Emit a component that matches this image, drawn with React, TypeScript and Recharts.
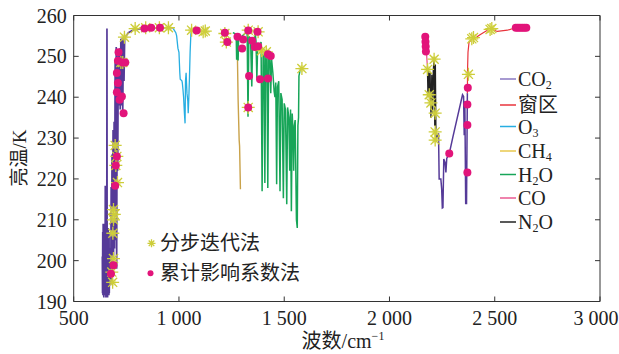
import {
  ComposedChart,
  Line,
  Scatter,
  XAxis,
  YAxis,
  ReferenceArea,
  Legend,
} from "recharts"

type Pt = [number, number]

const xTicks = [500, 1000, 1500, 2000, 2500, 3000]
const xTickLabels = ["500", "1 000", "1 500", "2 000", "2 500", "3 000"]
const yTicks = [190, 200, 210, 220, 230, 240, 250, 260]

// 15 μm CO2 band (wavenumber, brightness temperature)
const co2Band1: Pt[] = [
  [636, 201], [637, 192], [638, 207], [639, 191.5], [640, 209], [641, 192],
  [642, 206], [643, 191], [644, 208.5], [645, 192.5], [646, 205], [647, 191.5],
  [648, 209], [649, 192], [650, 218.3], [651, 191.5], [652, 207], [653, 191],
  [654, 205], [655, 192], [656, 208], [657, 191.5], [658, 256.8], [659, 191.5],
  [660, 208], [661, 191], [662, 206.5], [663, 192], [664, 208], [665, 192.5],
  [666, 204], [667, 191.5], [668, 207], [669, 192], [670, 203], [671, 194],
  [674, 196], [676, 194], [678, 218], [680, 195],
  [682, 226], [684, 197], [687, 232], [689, 199], [692, 234], [694, 203],
  [697, 249], [699, 205], [702, 252.3], [704, 198], [707, 250], [709, 222],
  [712, 251], [715, 238], [719, 252], [721, 237], [724, 254.3], [727, 238],
  [730, 254.5], [733, 236.4], [736, 254.8], [739, 244], [742, 254], [746, 254.8],
  [760, 255.8], [784, 256.5], [820, 256.8], [900, 257], [975, 257],
]

// 4.3 μm CO2 band
const co2Band2: Pt[] = [
  [2224, 230], [2233, 231.2], [2236, 220], [2244, 220], [2248, 217.5], [2251, 212.9],
  [2254, 213], [2258, 224.9], [2264, 224], [2268, 221.6], [2272, 225], [2284, 226.2],
  [2300, 230], [2320, 234.5], [2347, 240.6], [2352, 240.2], [2355, 230.7], [2358, 239],
  [2362, 214], [2366, 214], [2370, 241],
]

const windowBand: Pt[] = [
  [2370, 241], [2371, 247], [2373, 251], [2378, 253.5], [2389, 253.9], [2399, 254.2],
  [2430, 255.3], [2465, 256.4], [2478, 256.8], [2512, 256.1], [2560, 256.4],
  [2598, 257], [2655, 257],
]

const o3Band: Pt[] = [
  [973, 256.8], [985, 255.8], [989, 255], [995, 252], [1000, 251], [1004, 246],
  [1006, 244.4], [1014, 244], [1016, 243.5], [1019, 241.9], [1022, 240], [1026, 236],
  [1029, 233.6], [1031, 244], [1034, 246], [1038, 241], [1042, 239], [1044, 236.1],
  [1047, 240], [1050, 245], [1053, 251], [1057, 256], [1062, 256.4],
]

const ch4Band: Pt[] = [
  [1276, 254], [1278, 249], [1281, 239.4], [1286, 229.5], [1288, 228], [1292, 217.5],
]

const h2oBand: Pt[] = [
  [1256, 255.8], [1268, 255.5], [1272, 254.8], [1274, 249.2], [1277, 254.5], [1281, 249],
  [1283, 254], [1300, 255], [1318, 255.8], [1324, 255.5], [1328, 235.2], [1332, 254.8],
  [1340, 254.5], [1346, 242.6], [1350, 254], [1358, 253.5], [1362, 255.8], [1366, 253.5],
  [1370, 244.5], [1374, 252.8], [1382, 252.2], [1390, 253.5], [1395, 217], [1400, 252],
  [1404, 251.5], [1408, 219], [1412, 250.5], [1418, 250], [1422, 217.8], [1426, 249.5],
  [1432, 249], [1436, 241], [1440, 249.3], [1446, 246], [1452, 241.5], [1456, 240],
  [1460, 243.6], [1464, 218.7], [1468, 242.5], [1474, 243.9], [1480, 217], [1484, 241],
  [1490, 239.4], [1496, 215.3], [1500, 238.5], [1506, 237], [1512, 213.8], [1516, 237.5],
  [1522, 235], [1526, 222], [1530, 237], [1534, 212.1], [1538, 236], [1543, 230],
  [1545, 222], [1548, 233], [1552, 234.4], [1558, 210], [1562, 208], [1565, 233],
  [1568, 235], [1570, 245.2], [1575, 246.5], [1580, 247.2],
]

const coBand: Pt[] = [
  [2168, 255], [2172, 253], [2176, 250.6], [2180, 247.6],
]

const n2oBand: Pt[] = [
  [2180, 247.6], [2183, 240], [2186, 246.5], [2189, 241], [2193, 246], [2197, 235],
  [2201, 245.5], [2205, 236], [2208, 246.4], [2212, 249.8], [2215, 233], [2218, 248],
  [2221, 230], [2224, 229.9],
]

// 分步迭代法
const stepwisePts: Pt[] = [
  [681, 197.2], [685, 194.7], [689, 200.5], [686, 206.7], [689, 210], [693, 211.3],
  [689, 212.5], [708, 219.1], [700, 223.3], [705, 225.5], [697, 228.2], [724, 248.5],
  [733, 248.5], [741, 254.7], [792, 256.8], [842, 257], [907, 257], [950, 257],
  [1060, 256.4], [1115, 256], [1125, 256.2], [1218, 255.6], [1225, 253.5], [1329, 256.4],
  [1376, 256], [1392, 251.4], [1415, 251.1], [1329, 237.5], [1584, 247], [2181, 246.8],
  [2189, 240.6], [2197, 238.6], [2212, 249.3], [2217, 236.1], [2217, 231.5], [2217, 229.5],
  [2375, 245.6], [2391, 254.3], [2399, 254.6], [2478, 256.6], [2486, 256.8],
]

// 累计影响系数法
const cumulativePts: Pt[] = [
  [677, 196.8], [689, 198.9], [697, 218.3], [700, 223.3], [705, 225.5], [705, 241.2],
  [710, 243.5], [705, 245.9], [713, 251], [710, 248.9], [732, 248.5], [745, 248.5],
  [718, 239.4], [729, 240.2], [737, 236.1], [836, 256.8], [868, 257], [910, 257],
  [1084, 256.3], [1218, 255.8], [1230, 253.5], [1278, 254.8], [1305, 254.1], [1300, 251.9],
  [1329, 256.3], [1348, 253.8], [1373, 256], [1360, 252.3], [1376, 252.5], [1423, 250.5],
  [1436, 250.1], [1333, 245.2], [1385, 244.4], [1423, 244.6], [1329, 237.5], [2170, 254.8],
  [2171, 253.6], [2172, 252.4], [2173, 251.2], [2284, 226.2], [2372, 242.3], [2370, 238.2],
  [2370, 233.2], [2370, 221.6], [2600, 257], [2610, 257], [2620, 257], [2630, 257],
  [2640, 257], [2650, 257],
]

const COLORS = {
  co2: "#553a98",
  window: "#e8343c",
  o3: "#27aee2",
  ch4: "#c9a24a",
  h2o: "#17a558",
  co: "#ea5a92",
  n2o: "#222222",
  star: "#cdcd3a",
  dot: "#e2147a",
}

const legendItems = [
  { parts: ["CO", "2", ""], color: "#8a78c2", y: 79 },
  { parts: ["窗区", "", ""], color: COLORS.window, y: 105 },
  { parts: ["O", "3", ""], color: COLORS.o3, y: 126.5 },
  { parts: ["CH", "4", ""], color: "#e8c84e", y: 151 },
  { parts: ["H", "2", "O"], color: COLORS.h2o, y: 174.5 },
  { parts: ["CO", "", ""], color: COLORS.co, y: 198 },
  { parts: ["N", "2", "O"], color: COLORS.n2o, y: 222 },
]

const FONT = "'Liberation Serif', 'Noto Sans CJK SC', serif"
const W = 619
const H = 354
const PLOT = { left: 73.7, right: 600, top: 15.5, bottom: 301.5 }

const toXY = (pts: Pt[]) => pts.map(([x, y]) => ({ x, y }))

function XTick(props: any) {
  const { x, payload } = props
  const label = xTickLabels[xTicks.indexOf(payload.value)]
  const isLast = payload.value === xTicks[xTicks.length - 1]
  return (
    <g>
      <line x1={x} x2={x} y1={PLOT.bottom} y2={PLOT.bottom - 5} stroke="#333" />
      <line x1={x} x2={x} y1={PLOT.top} y2={PLOT.top + 5} stroke="#333" />
      <text
        x={isLast ? x - 4 : x}
        y={PLOT.bottom + 23.5}
        textAnchor="middle"
        fontSize={20}
        fontFamily={FONT}
        fill="#222"
      >
        {label}
      </text>
    </g>
  )
}

function YTick(props: any) {
  const { y, payload } = props
  return (
    <g>
      <line x1={PLOT.left} x2={PLOT.left + 5} y1={y} y2={y} stroke="#333" />
      <line x1={PLOT.right} x2={PLOT.right - 5} y1={y} y2={y} stroke="#333" />
      <text x={PLOT.left - 7} y={y + 7} textAnchor="end" fontSize={20} fontFamily={FONT} fill="#222">
        {payload.value}
      </text>
    </g>
  )
}

function StarMark({ cx, cy, r = 6.5 }: { cx: number; cy: number; r?: number }) {
  const d = r * 0.7
  return (
    <g>
      <circle cx={cx} cy={cy} r={r * 0.55} fill="#e6e67a" opacity={0.55} />
      <path
        d={`M${cx - r},${cy}H${cx + r}M${cx},${cy - r}V${cy + r}M${cx - d},${cy - d}L${cx + d},${cy + d}M${cx - d},${cy + d}L${cx + d},${cy - d}`}
        stroke={COLORS.star}
        strokeWidth={1.3}
      />
    </g>
  )
}

function DotMark({ cx, cy, r = 4 }: { cx: number; cy: number; r?: number }) {
  return <circle cx={cx} cy={cy} r={r} fill={COLORS.dot} />
}

function LegendOverlay() {
  return (
    <svg width={W} height={H} style={{ display: "block", pointerEvents: "none" }}>
      {legendItems.map((it) => (
        <g key={it.parts.join("")}>
          <line x1={500} x2={516} y1={it.y} y2={it.y} stroke={it.color} strokeWidth={1.5} />
          <text x={518} y={it.y + 7} fontSize={20} fontFamily={FONT} fill="#222">
            {it.parts[0]}
            {it.parts[1] && (
              <tspan fontSize={12} dy={3}>
                {it.parts[1]}
              </tspan>
            )}
            {it.parts[2] && <tspan dy={-3}>{it.parts[2]}</tspan>}
          </text>
        </g>
      ))}
      <StarMark cx={151.5} cy={243.3} r={4} />
      <text x={160} y={250.3} fontSize={20} fontFamily={FONT} fill="#222">
        分步迭代法
      </text>
      <DotMark cx={150.5} cy={273.3} r={3} />
      <text x={160} y={280.3} fontSize={20} fontFamily={FONT} fill="#222">
        累计影响系数法
      </text>
    </svg>
  )
}

export default function App() {
  const lines: { data: Pt[]; color: string; w: number }[] = [
    { data: co2Band1, color: COLORS.co2, w: 1.7 },
    { data: co2Band2, color: COLORS.co2, w: 1.5 },
    { data: windowBand, color: COLORS.window, w: 1.2 },
    { data: o3Band, color: COLORS.o3, w: 1.3 },
    { data: ch4Band, color: COLORS.ch4, w: 1.4 },
    { data: h2oBand, color: COLORS.h2o, w: 1.5 },
    { data: coBand, color: COLORS.co, w: 1.3 },
    { data: n2oBand, color: COLORS.n2o, w: 1.3 },
  ]

  return (
    <div style={{ position: "absolute", left: 0, top: 0, width: W, height: H, background: "#fff" }}>
      <ComposedChart
        width={W}
        height={H}
        margin={{ top: PLOT.top, right: W - PLOT.right, bottom: 0, left: 0 }}
        style={{ fontFamily: FONT }}
      >
        <XAxis
          dataKey="x"
          type="number"
          domain={[500, 3000]}
          ticks={xTicks}
          interval={0}
          height={H - PLOT.bottom}
          tickSize={0}
          tickMargin={0}
          axisLine={false}
          tickLine={false}
          tick={<XTick />}
          label={() => (
            <text x={343} y={348} textAnchor="middle" fontSize={20} fontFamily={FONT} fill="#222">
              波数/cm<tspan fontSize={12} dy={-8}>−1</tspan>
            </text>
          )}
        />
        <YAxis
          dataKey="y"
          type="number"
          domain={[190, 260]}
          ticks={yTicks}
          interval={0}
          width={PLOT.left}
          tickSize={0}
          tickMargin={0}
          axisLine={false}
          tickLine={false}
          tick={<YTick />}
          label={() => (
            <text
              x={19}
              y={158}
              transform="rotate(-90 19 158)"
              textAnchor="middle"
              dominantBaseline="central"
              fontSize={19}
              fontFamily={FONT}
              fill="#222"
            >
              亮温/K
            </text>
          )}
        />
        <ReferenceArea
          x1={500}
          x2={3000}
          y1={190}
          y2={260}
          fill="none"
          stroke="#333"
          strokeWidth={1}
          ifOverflow="visible"
        />
        {lines.map((l, i) => (
          <Line
            key={i}
            data={toXY(l.data)}
            dataKey="y"
            type="linear"
            stroke={l.color}
            strokeWidth={l.w}
            dot={false}
            activeDot={false}
            isAnimationActive={false}
          />
        ))}
        <Scatter
          data={toXY(stepwisePts)}
          dataKey="y"
          isAnimationActive={false}
          shape={(p: any) => <StarMark cx={p.cx} cy={p.cy} />}
        />
        <Scatter
          data={toXY(cumulativePts)}
          dataKey="y"
          isAnimationActive={false}
          shape={(p: any) => <DotMark cx={p.cx} cy={p.cy} />}
        />
        <Legend
          layout="vertical"
          align="center"
          verticalAlign="middle"
          wrapperStyle={{ left: 0, top: 0, width: W, height: H }}
          content={() => <LegendOverlay />}
        />
      </ComposedChart>
    </div>
  )
}
